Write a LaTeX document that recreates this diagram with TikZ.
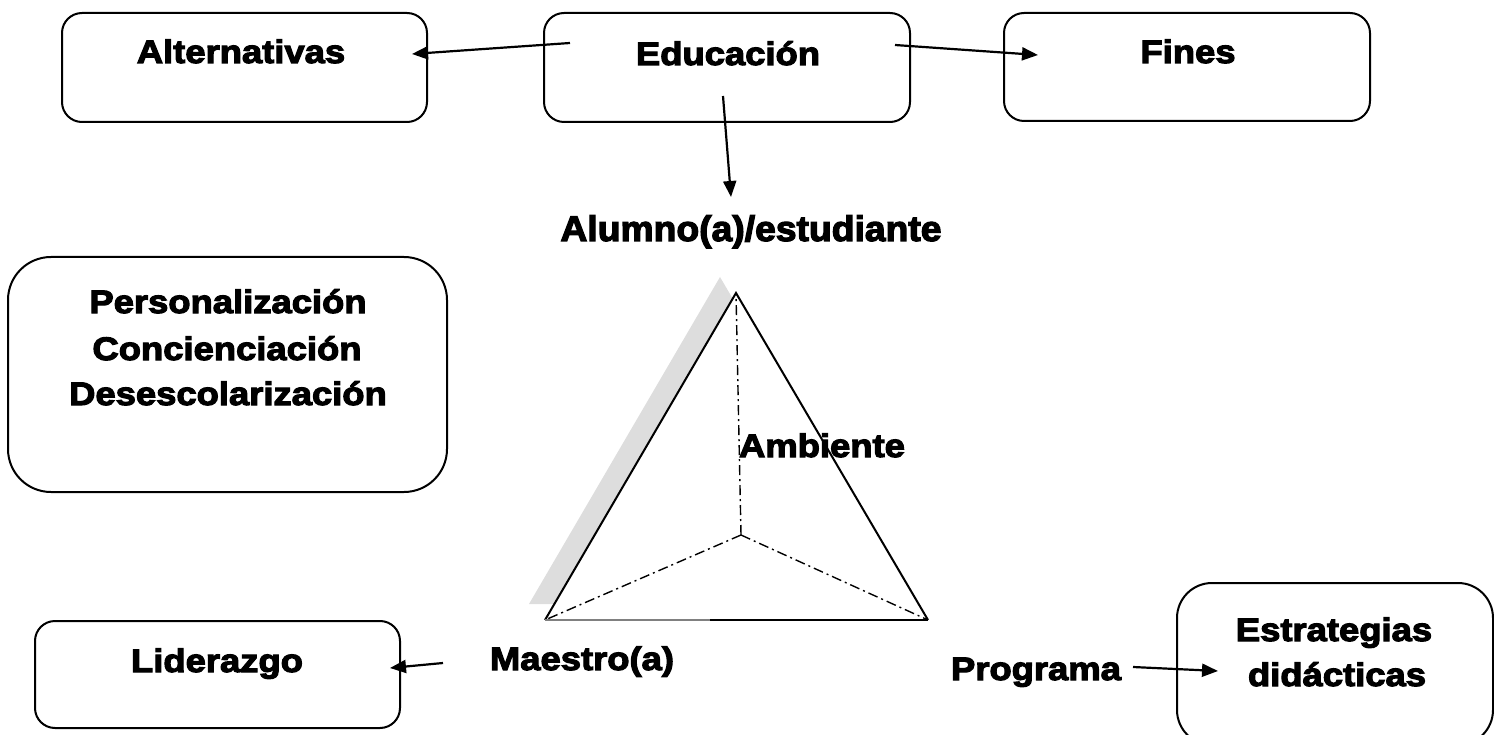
\documentclass[tikz,border=0pt]{standalone}
\usepackage{fontspec}
\newfontfamily\blk{Liberation Sans}[BoldFeatures={FakeStretch=1.12,FakeBold=3.5}]
\newfontfamily\blkb{Liberation Sans}[BoldFeatures={FakeStretch=1.05,FakeBold=3.5}]
\usetikzlibrary{arrows.meta}
\definecolor{shadowc}{HTML}{DDDDDD}
\begin{document}
\begin{tikzpicture}[x=1pt,y=-1pt,
 box/.style={draw,line width=2pt,rounded corners=20pt,inner sep=0pt},
 lbl/.style={font=\blk\bfseries\fontsize{32.5}{38}\selectfont,anchor=base,inner sep=0pt},
 lblbig/.style={font=\blkb\bfseries\fontsize{35.5}{40}\selectfont,anchor=base,inner sep=0pt},
 arr/.style={line width=2.2pt,-{Triangle[length=16pt,width=13pt]}},
 dd/.style={line width=1.4pt,dash pattern=on 10pt off 4pt on 2pt off 4pt},
 tri/.style={line width=2pt,line join=miter}]
\useasboundingbox (0,0) rectangle (1494,735);
% boxes
\node[box,minimum width=365pt,minimum height=109pt] (altbox) at (244.5,67.5) {};
\node[box,minimum width=366pt,minimum height=109pt] (edubox) at (727,67.5) {};
\node[box,minimum width=366pt,minimum height=108pt] (finbox) at (1187,67) {};
\node[box,rounded corners=43pt,minimum width=439pt,minimum height=235pt] (perbox) at (227.5,374.5) {};
\node[box,minimum width=365pt,minimum height=107pt] (lidbox) at (217.5,674.5) {};
\node[box,rounded corners=35pt,minimum width=316pt,minimum height=162pt] (estbox) at (1335,664) {};
% triangle
\coordinate (sa) at (720,277);
\coordinate (sl) at (529,604);
\coordinate (sr) at (912,604);
\coordinate (ta) at (736,293);
\coordinate (tl) at (545,620);
\coordinate (tr) at (928,620);
\coordinate (tm) at (710,620);
\coordinate (tc) at (741,535);
\fill[shadowc] (sa) -- (sl) -- (sr) -- cycle;
\fill[white] (ta) -- (tl) -- (tr) -- cycle;
\draw[tri] (tl) -- (ta) -- (tr);
\draw[tri,gray] (tl) -- (tm);
\draw[tri] (tm) -- (tr);
\draw[dd] (tc) -- (ta);
\draw[dd] (tc) -- (tl);
\draw[dd] (tc) -- (tr);
% labels
\node[lbl] (alt) at (241,63) {Alternativas};
\node[lbl] (edu) at (728,65) {Educación};
\node[lbl] (fin) at (1188,63) {Fines};
\node[lblbig] (alu) at (751,241) {Alumno(a)/estudiante};
\node[lbl] (per) at (228,313) {Personalización};
\node[lbl] (con) at (227,360) {Concienciación};
\node[lbl] (des) at (228,405) {Desescolarización};
\node[lbl] (amb) at (822,457) {Ambiente};
\node[lbl] (mae) at (582,670) {Maestro(a)};
\node[lbl] (lid) at (217,672) {Liderazgo};
\node[lbl] (pro) at (1036,680) {Programa};
\node[lbl] (est) at (1334,641) {Estrategias};
\node[lbl] (did) at (1337,686) {didácticas};
% arrow ends
\coordinate (e1s) at (570,43);
\coordinate (e1t) at (412,54);
\coordinate (e2s) at (895,45);
\coordinate (e2t) at (1038,55);
\coordinate (e3s) at (723,96);
\coordinate (e3t) at (731,197);
\coordinate (m1s) at (443,663);
\coordinate (m1t) at (390,668);
\coordinate (p1s) at (1133,667);
\coordinate (p1t) at (1218,671);
\draw[arr] (e1s) -- (e1t);
\draw[arr] (e2s) -- (e2t);
\draw[arr] (e3s) -- (e3t);
\draw[arr] (m1s) -- (m1t);
\draw[arr] (p1s) -- (p1t);
\end{tikzpicture}
\end{document}
